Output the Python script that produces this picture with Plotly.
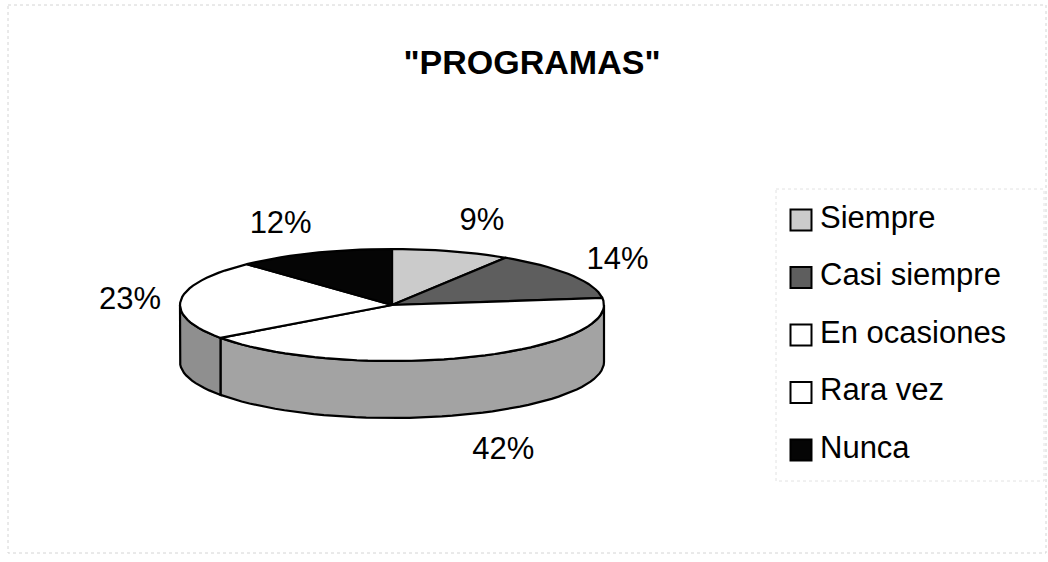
import numpy as np
import plotly.graph_objects as go

# Survey answers for "PROGRAMAS"
categories = ["Siempre", "Casi siempre", "En ocasiones", "Rara vez", "Nunca"]
percent = [9, 14, 42, 23, 12]
top_colors = ["#cbcbcb", "#5e5e5e", "#ffffff", "#ffffff", "#050505"]
side_colors = ["#9a9a9a", "#3c3c3c", "#a3a3a3", "#8f8f8f", "#000000"]

W, H = 1048, 562
CX, CY = 392, 305      # centre of the top face (pixels)
RX, RY = 212, 56       # radii of the tilted disc
DEPTH = 57             # thickness of the disc
FONT = "Arial, Liberation Sans, sans-serif"


def rim(a0, a1, dy=0.0, n=120):
    """Points on the rim between angles a0..a1 (degrees, clockwise from 12 o'clock)."""
    t = np.radians(np.linspace(a0, a1, max(2, int(n * abs(a1 - a0) / 360) + 2)))
    return CX + RX * np.sin(t), CY - RY * np.cos(t) + dy


fig = go.Figure()

total = float(sum(percent))
bounds = np.concatenate([[0.0], np.cumsum(percent) / total * 360.0])

# Side walls: only the front half of the disc (90..270 deg) is visible
for i, cat in enumerate(categories):
    a0, a1 = max(bounds[i], 90.0), min(bounds[i + 1], 270.0)
    if a1 <= a0:
        continue
    xt, yt = rim(a0, a1)
    xb, yb = rim(a0, a1, DEPTH)
    xs = np.concatenate([xt, xb[::-1], xt[:1]])
    ys = np.concatenate([yt, yb[::-1], yt[:1]])
    fig.add_trace(go.Scatter(
        x=xs, y=ys, mode="lines", fill="toself", fillcolor=side_colors[i],
        line=dict(color="black", width=2.2), hoverinfo="skip", showlegend=False))

# Top face slices
for i, cat in enumerate(categories):
    xa, ya = rim(bounds[i], bounds[i + 1])
    xs = np.concatenate([[CX], xa, [CX]])
    ys = np.concatenate([[CY], ya, [CY]])
    fig.add_trace(go.Scatter(
        x=xs, y=ys, mode="lines", fill="toself", fillcolor=top_colors[i],
        line=dict(color="black", width=2.2), name=cat,
        hovertemplate=f"{cat}: {percent[i]}%<extra></extra>", showlegend=False))

# Percentage labels placed just outside the rim of each slice
mids = np.radians((bounds[:-1] + bounds[1:]) / 2)
s, c = np.sin(mids), np.cos(mids)
lx = CX + (RX + 28) * s + 23 * np.sign(s)
ly = CY + 5 - (RY + 35) * c + np.where(c < 0, DEPTH, 0)
fig.add_trace(go.Scatter(
    x=lx, y=ly, mode="text", text=[f"{p}%" for p in percent],
    textfont=dict(family=FONT, size=31, color="black"),
    hoverinfo="skip", showlegend=False))

# Legend on the right
LEG_X, LEG_Y0, LEG_STEP = 801, 220, 57.5
leg_y = [LEG_Y0 + k * LEG_STEP for k in range(len(categories))]
fig.add_trace(go.Scatter(
    x=[LEG_X] * len(categories), y=leg_y, mode="markers",
    marker=dict(symbol="square", size=21, color=top_colors,
                line=dict(color="black", width=2)),
    hoverinfo="skip", showlegend=False))
fig.add_trace(go.Scatter(
    x=[LEG_X + 19] * len(categories), y=leg_y, mode="text", text=categories,
    textposition="middle right",
    textfont=dict(family=FONT, size=31, color="black"),
    hoverinfo="skip", showlegend=False))

# Faint dotted frames around the chart area and the legend
fig.add_shape(type="rect", x0=8, y0=5, x1=1046, y1=553,
              line=dict(color="#d4d4d4", width=1, dash="dot"), layer="below")
fig.add_shape(type="rect", x0=776, y0=189, x1=1044, y1=481,
              line=dict(color="#e2e2e2", width=1, dash="dot"), layer="below")

fig.update_layout(
    width=W, height=H,
    margin=dict(l=0, r=0, t=0, b=0),
    paper_bgcolor="white", plot_bgcolor="white",
    title=dict(text='<b>"PROGRAMAS"</b>', x=532 / W, xanchor="center",
               y=1 - 62 / H, yanchor="middle", yref="container",
               font=dict(family=FONT, size=34, color="black")),
    xaxis=dict(range=[0, W], visible=False, fixedrange=True),
    yaxis=dict(range=[H, 0], visible=False, fixedrange=True),
    showlegend=False,
)

fig.write_html("out.html")
